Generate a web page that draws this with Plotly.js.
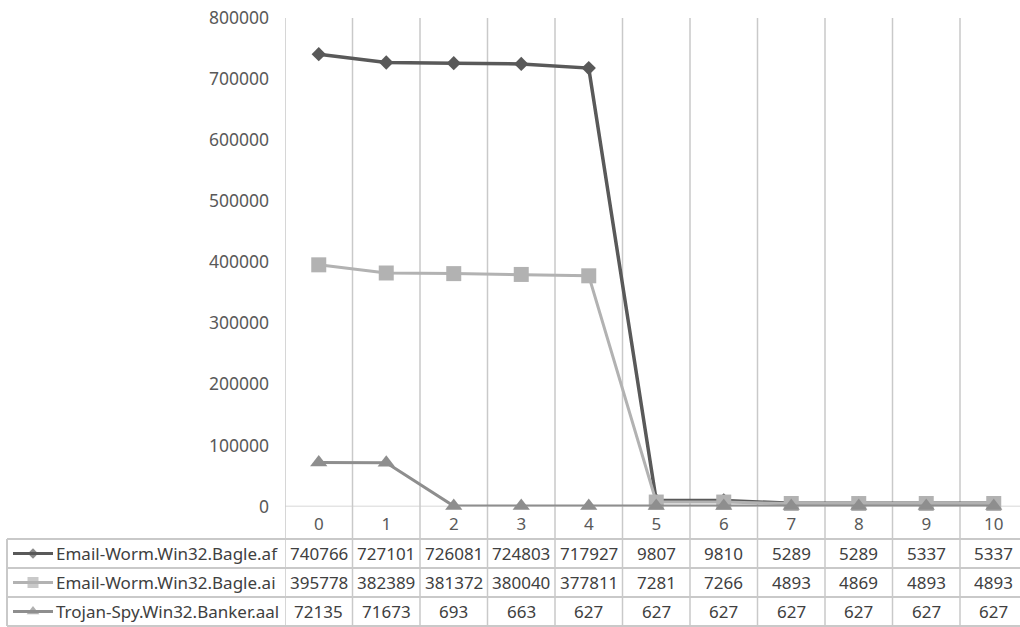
<!DOCTYPE html>
<html>
<head>
<meta charset="utf-8">
<script src="https://cdn.plot.ly/plotly-3.0.1.min.js"></script>
<style>
  html, body { margin: 0; padding: 0; background: #ffffff; overflow: hidden; }
  #chart { width: 1028px; height: 627px; }
</style>
</head>
<body>
<div id="chart"></div>
<script>
// Categories (step index) along the x axis
const categories = ['0', '1', '2', '3', '4', '5', '6', '7', '8', '9', '10'];

// Series names
const seriesNames = [
  'Email-Worm.Win32.Bagle.af',
  'Email-Worm.Win32.Bagle.ai',
  'Trojan-Spy.Win32.Banker.aal'
];

// Series values
const bagleAf = [740766, 727101, 726081, 724803, 717927, 9807, 9810, 5289, 5289, 5337, 5337];
const bagleAi = [395778, 382389, 381372, 380040, 377811, 7281, 7266, 4893, 4869, 4893, 4893];
const bankerAal = [72135, 71673, 693, 663, 627, 627, 627, 627, 627, 627, 627];

// Y axis ticks
const yTicks = [0, 100000, 200000, 300000, 400000, 500000, 600000, 700000, 800000];

// ---- layout helpers (pixel -> paper) ----
const W = 1028, H = 627;
const xp = px => px / W;
const yp = py => 1 - py / H;

const FONT = '"Noto Sans", "Open Sans", sans-serif';
const GRID = '#c9c9c9';
const TEXT = '#404040';

const styles = [
  { color: '#595959', symbol: 'diamond', size: 11, width: 3.5, keySize: 8 },
  { color: '#b2b2b2', symbol: 'square', size: 15, width: 3, keySize: 11 },
  { color: '#8e8e8e', symbol: 'triangle-up', size: 15, width: 3, keySize: 11 }
];
const seriesValues = [bagleAf, bagleAi, bankerAal];

const traces = [];
// main lines
seriesValues.forEach((vals, s) => {
  traces.push({
    type: 'scatter',
    mode: 'lines+markers',
    name: seriesNames[s],
    x: categories,
    y: vals,
    xaxis: 'x', yaxis: 'y',
    cliponaxis: false,
    line: { color: styles[s].color, width: styles[s].width },
    marker: { symbol: styles[s].symbol, size: styles[s].size, color: styles[s].color, line: { width: 0 } },
    showlegend: false,
    hoverinfo: 'skip'
  });
});
// legend keys inside the data table
seriesNames.forEach((name, s) => {
  traces.push({
    type: 'scatter',
    mode: 'lines+markers',
    x: [0, 0.5, 1],
    y: [name, name, name],
    xaxis: 'x2', yaxis: 'y2',
    cliponaxis: false,
    line: { color: styles[s].color, width: 3 },
    marker: { symbol: styles[s].symbol, size: [0, styles[s].keySize, 0], color: styles[s].color, line: { width: 0 } },
    showlegend: false,
    hoverinfo: 'skip'
  });
});

const shapes = [];
// vertical gridlines at category boundaries, running through the table
for (let i = 0; i <= categories.length; i++) {
  shapes.push({
    type: 'line', xref: 'x', yref: 'paper',
    x0: i - 0.5, x1: i - 0.5, y0: 0, y1: yp(18),
    line: { color: GRID, width: 1.5 }, layer: 'below'
  });
}
// category axis line at zero
shapes.push({
  type: 'line', xref: 'x', yref: 'y',
  x0: -0.5, x1: categories.length - 0.5, y0: 0, y1: 0,
  line: { color: GRID, width: 1.5 }, layer: 'below'
});
// table row borders
[539, 568, 597, 626].forEach(py => {
  shapes.push({
    type: 'line', xref: 'paper', yref: 'paper',
    x0: xp(7), x1: 1, y0: yp(py), y1: yp(py),
    line: { color: GRID, width: 2 }, layer: 'below'
  });
});
// table left border
shapes.push({
  type: 'line', xref: 'paper', yref: 'paper',
  x0: xp(7), x1: xp(7), y0: yp(626), y1: yp(539),
  line: { color: GRID, width: 2 }, layer: 'below'
});

const annotations = [];
seriesNames.forEach((name, s) => {
  annotations.push({
    xref: 'paper', yref: 'y2', x: xp(54), y: name,
    xanchor: 'left', yanchor: 'middle', showarrow: false,
    text: name, font: { family: FONT, size: 17, color: TEXT }
  });
  seriesValues[s].forEach((v, i) => {
    annotations.push({
      xref: 'x', yref: 'y2', x: categories[i], y: name,
      xanchor: 'center', yanchor: 'middle', showarrow: false,
      text: String(v), font: { family: FONT, size: 17, color: TEXT }
    });
  });
});

const layout = {
  width: W, height: H,
  margin: { l: 0, r: 0, t: 0, b: 0, pad: 0 },
  paper_bgcolor: '#ffffff', plot_bgcolor: 'rgba(0,0,0,0)',
  font: { family: FONT, size: 17, color: '#595959' },
  showlegend: false,
  xaxis: {
    type: 'category',
    domain: [xp(285), xp(1027.5)],
    range: [-0.5, categories.length - 0.5],
    showgrid: false, zeroline: false, showline: false,
    ticks: '', tickvals: categories, ticktext: categories,
    ticklabelstandoff: 5,
    tickfont: { family: FONT, size: 17, color: '#595959' },
    anchor: 'y', fixedrange: true
  },
  yaxis: {
    domain: [yp(506.5), yp(18)],
    range: [0, 800000],
    tickvals: yTicks, ticktext: yTicks.map(String),
    showgrid: false, zeroline: false, showline: false,
    ticks: '', ticklabelstandoff: 15,
    tickfont: { family: FONT, size: 17.5, color: '#595959' },
    anchor: 'x', fixedrange: true
  },
  xaxis2: {
    domain: [xp(13), xp(53)], range: [0, 1],
    visible: false, anchor: 'y2', fixedrange: true
  },
  yaxis2: {
    domain: [yp(626), yp(539)],
    type: 'category', categoryarray: seriesNames, categoryorder: 'array',
    range: [seriesNames.length - 0.5, -0.5],
    visible: false, anchor: 'x2', fixedrange: true
  },
  shapes: shapes,
  annotations: annotations
};

Plotly.newPlot('chart', traces, layout, { displayModeBar: false, staticPlot: true });
</script>
</body>
</html>
